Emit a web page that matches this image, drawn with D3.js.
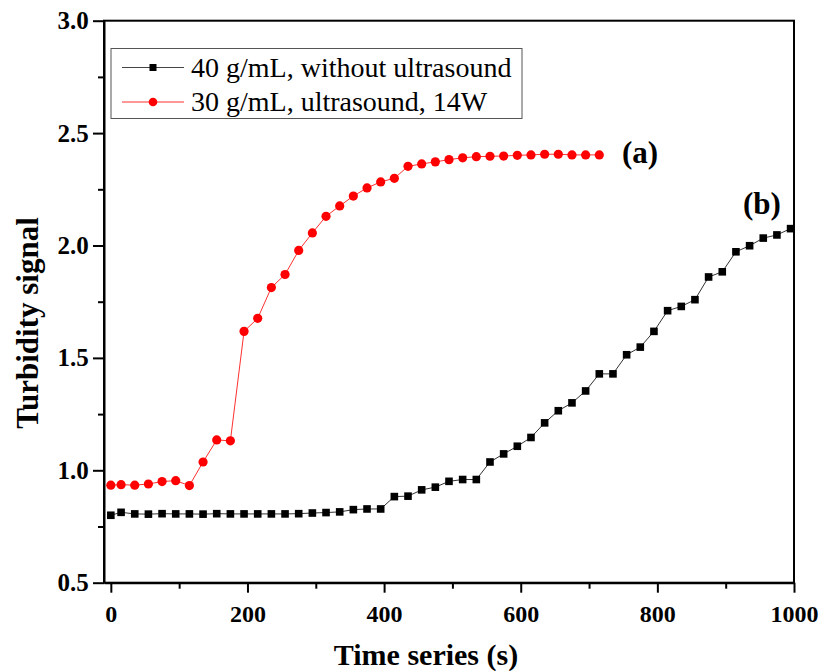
<!DOCTYPE html>
<html><head><meta charset="utf-8">
<script src="https://cdn.jsdelivr.net/npm/d3@7/dist/d3.min.js"></script>
<style>body{margin:0;background:#fff}svg{display:block}text{font-family:"Liberation Serif","Times New Roman",serif}</style>
</head><body><svg id="c" width="822" height="671"></svg>
<script>
const timeBlack = [0,15,35,55,75,95,115,135,155,175,195,215,235,255,275,295,315,335,355,375,395,415,435,455,475,495,515,535,555,575,595,615,635,655,675,695,715,735,755,775,795,815,835,855,875,895,915,935,955,975,995];
const valBlack = [0.800,0.813,0.806,0.805,0.807,0.806,0.806,0.805,0.807,0.806,0.806,0.806,0.806,0.806,0.807,0.810,0.812,0.815,0.825,0.828,0.828,0.883,0.885,0.913,0.925,0.951,0.959,0.959,1.037,1.073,1.107,1.146,1.211,1.265,1.300,1.353,1.429,1.429,1.514,1.548,1.618,1.710,1.729,1.759,1.860,1.883,1.972,1.999,2.033,2.047,2.075];
const timeRed = [0,15,35,55,75,95,115,135,155,175,195,215,235,255,275,295,315,335,355,375,395,415,435,455,475,495,515,535,555,575,595,615,635,655,675,695,715];
const valRed = [0.934,0.936,0.934,0.939,0.950,0.954,0.932,1.037,1.135,1.131,1.618,1.676,1.813,1.871,1.978,2.056,2.130,2.176,2.220,2.256,2.283,2.299,2.352,2.363,2.372,2.382,2.390,2.395,2.397,2.398,2.401,2.403,2.406,2.406,2.403,2.403,2.403];
const xTicks = [0,200,400,600,800,1000];
const yTicks = [0.5,1.0,1.5,2.0,2.5,3.0];
const seriesNames = ["40 g/mL, without ultrasound","30 g/mL, ultrasound, 14W"];

const svg = d3.select("#c");
const x = d3.scaleLinear().domain([-10,1000]).range([104,794]);
const y = d3.scaleLinear().domain([0.5,3.0]).range([582.7,20.7]);

svg.append("rect").attr("x",104).attr("y",20.7).attr("width",690).attr("height",562)
  .attr("fill","none").attr("stroke","#000").attr("stroke-width",2);

const xa = svg.append("g").attr("transform","translate(0,582.7)")
  .call(d3.axisBottom(x).tickValues(xTicks).tickFormat(d3.format("d")).tickSize(10).tickSizeOuter(0));
svg.append("g").attr("transform","translate(0,582.7)")
  .call(d3.axisBottom(x).tickValues([100,300,500,700,900]).tickFormat("").tickSize(6).tickSizeOuter(0))
  .select(".domain").remove();
const ya = svg.append("g").attr("transform","translate(104,0)")
  .call(d3.axisLeft(y).tickValues(yTicks).tickFormat(d3.format(".1f")).tickSize(11).tickSizeOuter(0));
svg.append("g").attr("transform","translate(104,0)")
  .call(d3.axisLeft(y).tickValues([0.75,1.25,1.75,2.25,2.75]).tickFormat("").tickSize(6).tickSizeOuter(0))
  .select(".domain").remove();
svg.selectAll(".domain").attr("stroke-width",2);
svg.selectAll(".tick line").attr("stroke-width",2);
xa.selectAll(".tick text").attr("font-size",24).attr("font-weight","bold").attr("dy","1.1em").attr("font-family","Liberation Serif");
ya.selectAll(".tick text").attr("font-size",25).attr("font-weight","bold").attr("dx","-0.05em").attr("font-family","Liberation Serif");

svg.append("text").attr("x",426).attr("y",665).attr("text-anchor","middle")
  .attr("font-size",30).attr("font-weight","bold").text("Time series (s)");
svg.append("text").attr("transform","translate(38,323) rotate(-90)").attr("text-anchor","middle")
  .attr("font-size",31).attr("font-weight","bold").text("Turbidity signal");

const line = d3.line().x(d=>x(d[0])).y(d=>y(d[1]));
const black = timeBlack.map((t,i)=>[t,valBlack[i]]);
const red = timeRed.map((t,i)=>[t,valRed[i]]);

svg.append("path").datum(black).attr("d",line).attr("fill","none").attr("stroke","#333").attr("stroke-width",1);
svg.append("path").datum(red).attr("d",line).attr("fill","none").attr("stroke","#ff3030").attr("stroke-width",1);

svg.selectAll(".sq").data(black).enter().append("rect")
  .attr("x",d=>x(d[0])-3.8).attr("y",d=>y(d[1])-3.8).attr("width",7.6).attr("height",7.6).attr("fill","#000");
svg.selectAll(".ci").data(red).enter().append("circle")
  .attr("cx",d=>x(d[0])).attr("cy",d=>y(d[1])).attr("r",4.6).attr("fill","#ff0000");

svg.append("text").attr("x",640).attr("y",163).attr("text-anchor","middle").attr("font-size",31).attr("font-weight","bold").text("(a)");
svg.append("text").attr("x",762).attr("y",214).attr("text-anchor","middle").attr("font-size",31).attr("font-weight","bold").text("(b)");

svg.append("rect").attr("x",111).attr("y",48.5).attr("width",411).attr("height",70).attr("fill","#fff").attr("stroke","#555").attr("stroke-width",1);
const lg = svg.append("g");
[0,1].forEach(i=>{
  const yy = [67.5,102][i];
  lg.append("line").attr("x1",122).attr("x2",184).attr("y1",yy).attr("y2",yy).attr("stroke",i?"#ff3030":"#444").attr("stroke-width",1);
  if(i===0) lg.append("rect").attr("x",153-3.5).attr("y",yy-3.5).attr("width",7).attr("height",7).attr("fill","#000");
  else lg.append("circle").attr("cx",153).attr("cy",yy).attr("r",4.3).attr("fill","#ff0000");
  lg.append("text").attr("x",191).attr("y",yy+9).attr("font-size",28).text(seriesNames[i]);
});
</script></body></html>
